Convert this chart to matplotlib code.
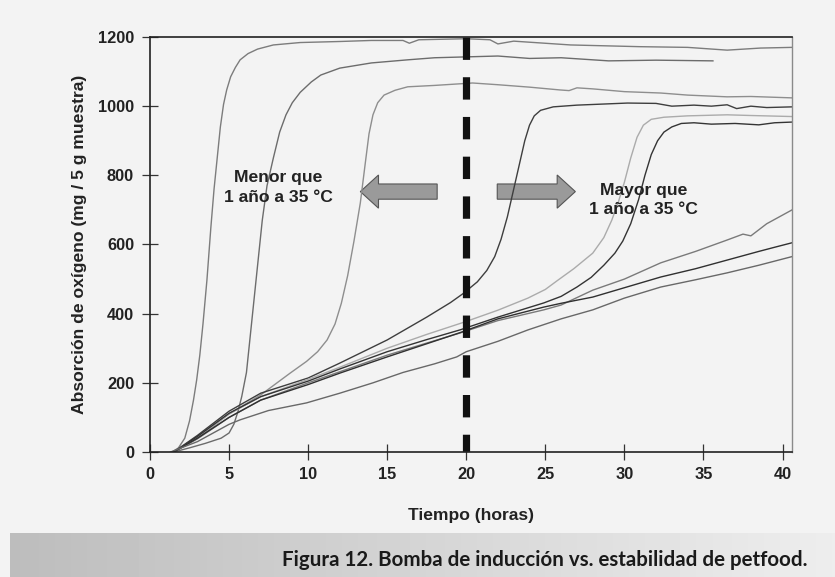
import numpy as np
import matplotlib
matplotlib.use("Agg")
import matplotlib.pyplot as plt
from matplotlib import font_manager
from matplotlib.patches import FancyArrow

names = {f.name for f in font_manager.fontManager.ttflist}
NARROW = "Liberation Sans Narrow" if "Liberation Sans Narrow" in names else "Liberation Sans"
CAPF = "Lato" if "Lato" in names else "DejaVu Sans"

# ---------------- data ----------------
x1 = [1.4, 1.8, 2.2, 2.5, 2.75, 2.95, 3.15, 3.35, 3.6, 3.85, 4.05, 4.25, 4.45, 4.65, 4.85, 5.1, 5.4, 5.7, 6.2, 6.8, 7.8, 9.5, 12, 14, 16, 16.4, 17, 20, 21.5, 22, 23, 26.6, 31, 34, 36.5, 38.6, 40.6]
y1 = [0, 12, 40, 90, 150, 208, 280, 370, 497, 650, 760, 850, 940, 1005, 1047, 1085, 1112, 1134, 1152, 1165, 1177, 1184, 1187, 1190, 1190, 1182, 1192, 1195, 1192, 1180, 1188, 1177, 1172, 1170, 1162, 1168, 1170]

x2 = [1.5, 2.5, 3.5, 4.5, 5.0, 5.3, 5.55, 5.8, 6.1, 6.35, 6.6, 6.85, 7.1, 7.4, 7.8, 8.2, 8.6, 9.0, 9.5, 10.2, 10.8, 12, 14, 16.3, 18, 20.4, 22, 24, 26, 29, 32, 35.6]
y2 = [0, 12, 25, 40, 55, 80, 115, 160, 230, 340, 450, 560, 670, 770, 850, 925, 975, 1010, 1040, 1070, 1090, 1110, 1125, 1134, 1140, 1143, 1145, 1138, 1140, 1131, 1133, 1131]

x3 = [1.5, 3, 5, 7, 8.86, 9.9, 10.6, 11.2, 11.7, 12.1, 12.5, 12.9, 13.3, 13.6, 13.85, 14.1, 14.4, 14.8, 15.5, 16.3, 18, 20.4, 22, 24, 25.9, 26.5, 27, 28, 30, 32.3, 34, 36.5, 38, 40.6]
y3 = [0, 40, 110, 165, 228, 262, 290, 324, 370, 430, 510, 610, 720, 830, 920, 975, 1010, 1032, 1046, 1056, 1060, 1067, 1062, 1055, 1047, 1045, 1053, 1050, 1042, 1038, 1032, 1027, 1028, 1024]

x4 = [1.5, 3, 5, 7, 10, 12, 15, 17.5, 19, 19.8, 20.7, 21.3, 21.8, 22.2, 22.6, 23.0, 23.4, 23.7, 24.0, 24.3, 24.7, 25.5, 27, 30.2, 32, 33, 34.4, 35.5, 36.5, 37.1, 38, 39, 40.6]
y4 = [0, 48, 118, 170, 214, 257, 324, 390, 432, 458, 492, 525, 565, 615, 680, 760, 840, 900, 945, 972, 988, 998, 1003, 1009, 1008, 1000, 1003, 1000, 1004, 993, 1000, 996, 998]

x5 = [1.5, 3, 5, 7, 10, 12, 15, 17.5, 19.9, 22, 23.9, 25, 25.8, 26.8, 28, 28.7, 29.2, 29.6, 30, 30.4, 30.8, 31.2, 31.7, 32.5, 34, 36.5, 38, 40.6]
y5 = [0, 42, 110, 160, 210, 245, 300, 340, 376, 410, 445, 470, 497, 530, 575, 620, 670, 720, 780, 850, 910, 945, 962, 968, 972, 975, 973, 970]

x6 = [1.5, 3, 5, 7, 10, 12, 15, 17.5, 19.6, 22, 24.9, 26, 27, 27.9, 28.7, 29.4, 29.9, 30.4, 30.9, 31.3, 31.7, 32.1, 32.5, 33, 33.6, 34.4, 35.5, 37, 38.5, 39.5, 40.6]
y6 = [0, 45, 112, 160, 205, 240, 290, 325, 353, 390, 431, 450, 477, 505, 540, 575, 610, 660, 730, 800, 860, 900, 925, 940, 950, 952, 948, 950, 946, 952, 954]

x7 = [1.5, 3, 5, 7, 10, 12, 15, 17.5, 19.6, 22, 24.9, 26, 28, 30, 32.3, 34.5, 36.5, 37.5, 38, 39, 40.6]
y7 = [0, 38, 100, 150, 200, 232, 280, 315, 344, 380, 411, 425, 468, 500, 547, 580, 613, 630, 625, 660, 700]

x8 = [1.5, 3, 5, 7, 10, 12, 15, 17.5, 19.6, 22, 24.9, 26, 28, 30, 32.3, 34.5, 36.5, 38.5, 39.5, 40.6]
y8 = [0, 40, 100, 150, 195, 228, 275, 313, 345, 385, 419, 430, 448, 475, 506, 530, 555, 580, 592, 605]

x9 = [1.3, 3, 5, 5.7, 7.5, 9.9, 12, 14.1, 16, 18, 19.4, 20, 22, 23.9, 26, 28, 30, 32.3, 34.5, 36.5, 38.5, 40.6]
y9 = [0, 30, 80, 93, 120, 142, 170, 200, 230, 255, 275, 290, 320, 353, 385, 411, 445, 477, 498, 518, 540, 565]

series = [(x1, y1, "#7c7c7c"), (x2, y2, "#6c6c6c"), (x3, y3, "#8e8e8e"),
          (x4, y4, "#3e3e3e"), (x5, y5, "#ababab"), (x6, y6, "#343434"),
          (x7, y7, "#7a7a7a"), (x8, y8, "#303030"), (x9, y9, "#686868")]

x_ticks = [0, 5, 10, 15, 20, 25, 30, 35, 40]
y_ticks = [0, 200, 400, 600, 800, 1000, 1200]
xlabel = "Tiempo (horas)"
ylabel = "Absorción de oxígeno (mg / 5 g muestra)"
left_text = "Menor que\n1 año a 35 °C"
right_text = "Mayor que\n1 año a 35 °C"
caption = "Figura 12. Bomba de inducción vs. estabilidad de petfood."
cut_time = 20

# ---------------- figure ----------------
W, H = 835, 577
fig = plt.figure(figsize=(W / 100, H / 100), dpi=100, facecolor="#f3f3f3")

# caption band with gradient
band = fig.add_axes([10 / W, 0, 1 - 10 / W, 44 / H])
grad = np.linspace(0.74, 0.93, 256)[None, :]
band.imshow(grad, aspect="auto", cmap="gray", vmin=0, vmax=1, extent=[0, 1, 0, 1])
band.set_axis_off()

ax = fig.add_axes([150 / W, 1 - 452 / H, (792 - 150) / W, (452 - 37) / H])
ax.set_facecolor("none")

for xs, ys, c in series:
    ax.plot(xs, ys, color=c, lw=1.0, solid_joinstyle="round")

ax.plot([cut_time, cut_time], [1200, 0], color="#111111", lw=5.2,
        dashes=[3.1, 2.4], solid_capstyle="butt", dash_capstyle="butt")

ax.set_xlim(0, 40.6)
ax.set_ylim(0, 1200)
ax.set_xticks(x_ticks)
ax.set_yticks(y_ticks)

tick_font = dict(family=NARROW, weight="bold", size=11.8)
ax.set_xticklabels([str(t) for t in x_ticks], **tick_font, color="#222222")
ax.set_yticklabels([str(t) for t in y_ticks], **tick_font, color="#222222")
ax.tick_params(axis="both", direction="inout", length=11, width=0.9, color="#333333")
ax.tick_params(axis="x", pad=5)
ax.tick_params(axis="y", pad=6)

for s in ["left", "bottom", "top"]:
    ax.spines[s].set_color("#222222")
    ax.spines[s].set_linewidth(1.2)
ax.spines["right"].set_color("#8a8a8a")
ax.spines["right"].set_linewidth(1.0)

lab_font = dict(family=NARROW, weight="bold", size=12.6, color="#222222")
ax.set_xlabel(xlabel, labelpad=19, **lab_font)
ax.set_ylabel(ylabel, labelpad=8, **lab_font)

# arrows
arrow_kw = dict(width=44, head_width=96, head_length=1.15, length_includes_head=True,
                facecolor="#9a9a9a", edgecolor="#555555", lw=0.8)
ax.add_patch(FancyArrow(18.16, 753, 13.3 - 18.16, 0, **arrow_kw))
ax.add_patch(FancyArrow(21.96, 753, 26.9 - 21.96, 0, **arrow_kw))

ax.text(8.1, 765, left_text, ha="center", va="center", linespacing=1.35, **lab_font)
ax.text(31.2, 728, right_text, ha="center", va="center", linespacing=1.35, **lab_font)

# caption, right aligned
cap = fig.text(808 / W, 1 - 560 / H, caption, ha="right", va="center",
               family=CAPF, weight="bold", size=15, color="#1a1a1a")
fig.canvas.draw()
wpx = cap.get_window_extent().width
cap.set_fontsize(15 * 526 / wpx)

fig.savefig("out.png", dpi=100, facecolor=fig.get_facecolor())
